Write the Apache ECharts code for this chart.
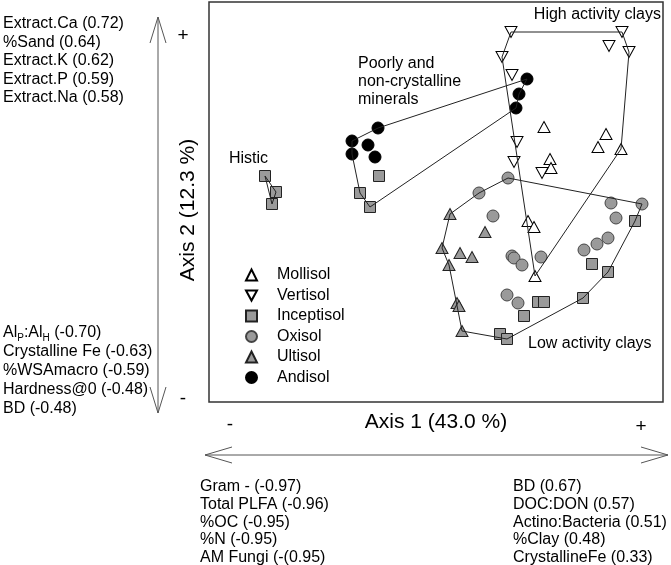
<!DOCTYPE html>
<html>
<head>
<meta charset="utf-8">
<script src="https://cdn.jsdelivr.net/npm/echarts@6/dist/echarts.min.js"></script>
<style>html,body{margin:0;padding:0;background:#fff;}#c{width:671px;height:565px;}</style>
</head>
<body>
<div id="c"></div>
<script>
// ---- data (ordination scores) ----
const seriesNames = ['Mollisol', 'Vertisol', 'Inceptisol', 'Oxisol', 'Ultisol', 'Andisol'];
const mollisol = [[1.08,0.75],[1.70,0.68],[1.62,0.55],[1.85,0.53],[1.14,0.43],[1.15,0.34],[0.92,-0.19],[0.98,-0.25],[0.99,-0.74]];
const vertisol = [[0.75,1.70],[1.86,1.70],[1.73,1.56],[1.93,1.50],[0.66,1.45],[0.76,1.27],[0.81,0.60],[0.78,0.40],[1.06,0.29]];
const inceptisol = [[-1.71,0.26],[-1.60,0.10],[-1.64,-0.02],[-0.57,0.26],[-0.76,0.09],[-0.66,-0.05],[1.99,-0.19],[1.56,-0.62],[1.72,-0.70],[1.47,-0.96],[1.02,-1.00],[1.08,-1.00],[0.88,-1.14],[0.64,-1.32],[0.71,-1.37]];
const oxisol = [[0.72,0.24],[0.43,0.09],[1.75,-0.01],[2.06,-0.02],[1.80,-0.16],[0.57,-0.14],[1.72,-0.36],[1.61,-0.42],[1.48,-0.48],[0.76,-0.54],[0.78,-0.56],[0.86,-0.63],[1.05,-0.55],[0.71,-0.93],[0.82,-1.01]];
const ultisol = [[0.14,-0.12],[0.49,-0.30],[0.06,-0.46],[0.24,-0.51],[0.36,-0.55],[0.13,-0.63],[0.21,-1.01],[0.23,-1.04],[0.26,-1.29]];
const andisol = [[-0.58,0.74],[-0.84,0.61],[-0.68,0.57],[-0.84,0.48],[-0.61,0.45],[0.91,1.23],[0.83,1.08],[0.80,0.94]];

// convex hull outlines of the groups
const histicHull = [[-1.71,0.26],[-1.60,0.10],[-1.64,-0.02],[-1.71,0.26]];
const poorlyHull = [[-0.84,0.61],[-0.58,0.74],[0.91,1.23],[0.83,1.08],[0.80,0.94],[-0.66,-0.05],[-0.76,0.09],[-0.84,0.48],[-0.84,0.61]];
const highHull = [[0.75,1.70],[1.86,1.70],[1.93,1.50],[1.85,0.53],[0.99,-0.74],[0.66,1.45],[0.75,1.70]];
const lowHull = [[0.72,0.24],[2.06,-0.02],[1.99,-0.19],[1.72,-0.70],[1.47,-0.96],[0.71,-1.37],[0.26,-1.29],[0.13,-0.63],[0.06,-0.46],[0.14,-0.12],[0.43,0.09],[0.72,0.24]];

// text
const axis1Title = 'Axis 1 (43.0 %)';
const axis2Title = 'Axis 2 (12.3 %)';
const axis2Pos = ['Extract.Ca (0.72)', '%Sand (0.64)', 'Extract.K (0.62)', 'Extract.P (0.59)', 'Extract.Na (0.58)'];
const axis2Neg = ['{n|Al}{s|P}{n|:Al}{s|H}{n| (-0.70)}', 'Crystalline Fe (-0.63)', '%WSAmacro (-0.59)', 'Hardness@0 (-0.48)', 'BD (-0.48)'];
const axis1Neg = ['Gram - (-0.97)', 'Total PLFA (-0.96)', '%OC (-0.95)', '%N (-0.95)', 'AM Fungi (-(0.95)'];
const axis1Pos = ['BD (0.67)', 'DOC:DON (0.57)', 'Actino:Bacteria (0.51)', '%Clay (0.48)', 'CrystallineFe (0.33)'];
const groupLabels = ['Histic', 'Poorly and\nnon-crystalline\nminerals', 'High activity clays', 'Low activity clays'];

const FONT = '"Liberation Sans", Arial, Helvetica, sans-serif';
const GRAY = '#9a9a9a';
const downTri = 'path://M0,0 L12,0 L6,11 Z';

const chart = echarts.init(document.getElementById('c'), null, {renderer: 'canvas'});

function txt(x, y, s, size, align) {
  return {type: 'text', x: x, y: y, style: {text: s, font: size + 'px ' + FONT, fill: '#000', textAlign: align || 'left', textVerticalAlign: 'middle'}};
}
const graphics = [];
axis2Pos.forEach((s, i) => graphics.push(txt(3, 24 + i * 18.5, s, 16)));
axis2Neg.forEach((s, i) => graphics.push({
  type: 'text', x: 3, y: 333 + i * 19,
  style: {text: s, fill: '#000', textVerticalAlign: 'middle', font: '16px ' + FONT,
    rich: {n: {fontSize: 16, fontFamily: FONT, lineHeight: 20}, s: {fontSize: 10, fontFamily: FONT, lineHeight: 12, verticalAlign: 'bottom'}}}
}));
axis1Neg.forEach((s, i) => graphics.push(txt(200, 487 + i * 17.6, s, 16)));
axis1Pos.forEach((s, i) => graphics.push(txt(513, 487 + i * 17.6, s, 16)));
graphics.push(txt(183, 36, '+', 19, 'center'));
graphics.push(txt(183, 399, '-', 19, 'center'));
graphics.push(txt(230, 425, '-', 19, 'center'));
graphics.push(txt(641, 427, '+', 19, 'center'));
graphics.push(txt(436, 422, axis1Title, 21, 'center'));
graphics.push({type: 'text', x: 188, y: 210, rotation: Math.PI / 2, style: {text: axis2Title, font: '21px ' + FONT, fill: '#000', textAlign: 'center', textVerticalAlign: 'middle'}});
// arrows
const ARROW = {stroke: '#555', lineWidth: 1, fill: null};
graphics.push({type: 'line', shape: {x1: 158, y1: 17, x2: 158, y2: 413}, style: ARROW});
graphics.push({type: 'polyline', shape: {points: [[150, 43], [158, 17], [166, 43]]}, style: ARROW});
graphics.push({type: 'polyline', shape: {points: [[150, 387], [158, 413], [166, 387]]}, style: ARROW});
graphics.push({type: 'line', shape: {x1: 205, y1: 455, x2: 668, y2: 455}, style: ARROW});
graphics.push({type: 'polyline', shape: {points: [[232, 447], [205, 455], [232, 463]]}, style: ARROW});
graphics.push({type: 'polyline', shape: {points: [[641, 447], [668, 455], [641, 463]]}, style: ARROW});
// group labels
graphics.push(txt(229, 159, groupLabels[0], 16));
graphics.push({type: 'text', x: 358, y: 82, style: {text: groupLabels[1], font: '16px ' + FONT, fill: '#000', textVerticalAlign: 'middle', lineHeight: 18}});
graphics.push(txt(661, 15, groupLabels[2], 16, 'right'));
graphics.push(txt(528, 344, groupLabels[3], 16));

function hull(data) {
  return {type: 'line', data: data, showSymbol: false, symbol: 'none', silent: true, z: 5,
    lineStyle: {color: '#222', width: 1}, animation: false};
}
function pts(name, data, symbol, size, fill, border) {
  return {name: name, type: 'scatter', data: data, symbol: symbol, symbolSize: size, z: 3,
    itemStyle: {color: fill, borderColor: border, borderWidth: 1, opacity: 1}};
}

chart.setOption({
  animation: false,
  grid: {left: 209, top: 2, width: 454, height: 400, show: true, borderColor: '#333', borderWidth: 1.5, backgroundColor: 'transparent'},
  xAxis: {type: 'value', min: -2.27, max: 2.27, show: false},
  yAxis: {type: 'value', min: -2.0, max: 2.0, show: false},
  legend: {
    data: seriesNames, orient: 'vertical', left: 245, top: 265, padding: 0, itemWidth: 11, itemHeight: 11, itemGap: 0.5,
    textStyle: {fontFamily: FONT, fontSize: 16, color: '#000', lineHeight: 20, padding: [0, 0, 0, 15]},
    selectedMode: false
  },
  graphic: graphics,
  series: [
    pts('Mollisol', mollisol, 'triangle', [12, 11], '#fff', '#000'),
    pts('Vertisol', vertisol, downTri, [12, 11], '#fff', '#000'),
    pts('Inceptisol', inceptisol, 'rect', 11, GRAY, '#222'),
    pts('Oxisol', oxisol, 'circle', 12, GRAY, '#444'),
    pts('Ultisol', ultisol, 'triangle', [12, 11], GRAY, '#222'),
    pts('Andisol', andisol, 'circle', 12, '#000', '#000'),
    hull(histicHull), hull(poorlyHull), hull(highHull), hull(lowHull)
  ]
});
</script>
</body>
</html>
